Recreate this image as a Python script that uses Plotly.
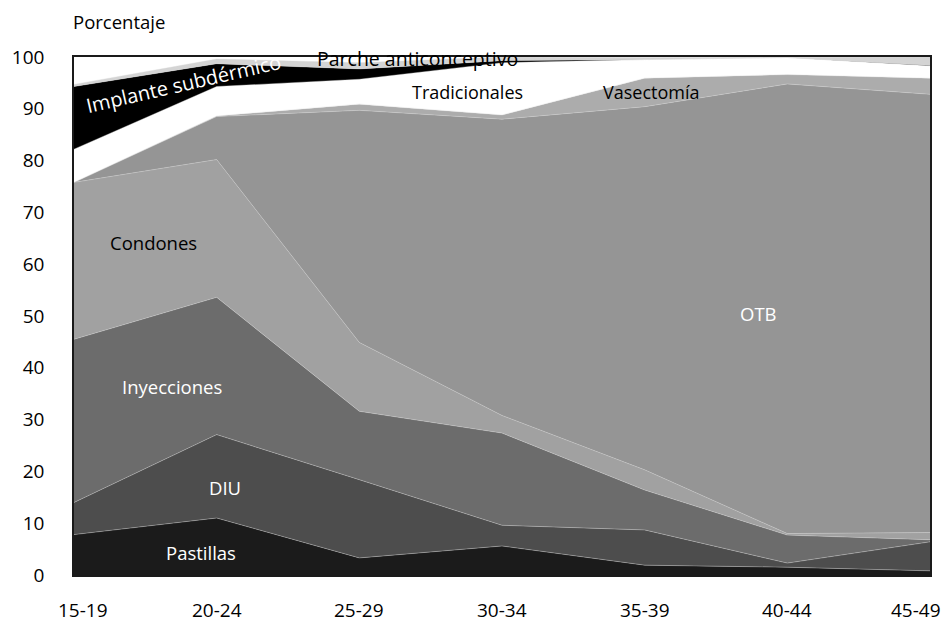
import plotly.graph_objects as go

categories = ["15-19", "20-24", "25-29", "30-34", "35-39", "40-44", "45-49"]

pastillas = [7.8, 11.0, 3.3, 5.6, 1.9, 1.5, 0.8]
diu = [6.2, 16.1, 15.1, 4.0, 6.8, 0.8, 5.6]
inyecciones = [31.5, 26.5, 13.2, 17.8, 7.7, 5.4, 0.4]
condones = [30.3, 26.6, 13.3, 3.4, 3.9, 0.3, 1.4]
otb = [0.0, 8.3, 44.8, 57.2, 70.1, 86.8, 84.6]
vasectomia = [0.0, 0.1, 1.2, 0.8, 5.5, 1.8, 3.1]
tradicionales = [6.4, 5.7, 4.8, 10.1, 3.6, 3.3, 2.4]
implante = [12.1, 4.4, 2.0, 0.4, 0.0, 0.0, 0.1]
parche = [0.4, 0.9, 1.2, 0.7, 0.4, 0.1, 1.6]

y_ticks = [0, 10, 20, 30, 40, 50, 60, 70, 80, 90, 100]

series = [
    ("Pastillas", pastillas, "#1b1b1b"),
    ("DIU", diu, "#4d4d4d"),
    ("Inyecciones", inyecciones, "#6c6c6c"),
    ("Condones", condones, "#a1a1a1"),
    ("OTB", otb, "#959595"),
    ("Vasectomía", vasectomia, "#acacac"),
    ("Tradicionales", tradicionales, "#ffffff"),
    ("Implante subdérmico", implante, "#000000"),
    ("Parche anticonceptivo", parche, "#d4d4d4"),
]

FONT = "Open Sans"

fig = go.Figure()
for name, vals, col in series:
    fig.add_trace(go.Scatter(
        x=categories, y=vals, name=name, mode="lines",
        stackgroup="one", fillcolor=col,
        line=dict(color="rgba(215,215,215,0.6)", width=0.6),
        hoverinfo="skip",
    ))

# series labels (x as category index, y in data units)
labels = [
    ("Implante subdérmico", 0.77, 94.8, "white", -13, 20),
    ("Parche anticonceptivo", 2.41, 99.8, "black", 0, 19.5),
    ("Tradicionales", 2.76, 93.2, "black", 0, 18),
    ("Vasectomía", 4.05, 93.2, "black", 0, 18),
    ("Condones", 0.56, 64.2, "black", 0, 18.5),
    ("OTB", 4.80, 50.5, "white", 0, 18.5),
    ("Inyecciones", 0.69, 36.4, "white", 0, 18.5),
    ("DIU", 1.06, 16.8, "white", 0, 18.5),
    ("Pastillas", 0.89, 4.3, "white", 0, 18.5),
]
for txt, xi, yv, col, ang, sz in labels:
    fig.add_annotation(x=xi, y=yv, xref="x", yref="y", text=txt,
                       showarrow=False, textangle=ang,
                       font=dict(family=FONT, size=sz, color=col),
                       xanchor="center", yanchor="middle")

# x tick labels, kept inside the canvas at the edges
shifts = [9, 0, 0, 0, 0, 0, -14]
for i, c in enumerate(categories):
    fig.add_annotation(x=i, y=0, xref="x", yref="paper", text=c,
                       showarrow=False, yshift=-35, xshift=shifts[i],
                       font=dict(family=FONT, size=19, color="black"),
                       xanchor="center", yanchor="middle")

fig.add_annotation(x=-0.004, y=1.068, xref="paper", yref="paper",
                   text="Porcentaje", showarrow=False,
                   xanchor="left", yanchor="middle",
                   font=dict(family=FONT, size=18.5, color="black"))

fig.update_layout(
    width=944, height=622,
    margin=dict(l=71, r=13, t=57, b=47),
    paper_bgcolor="white", plot_bgcolor="white",
    showlegend=False, hovermode=False,
    font=dict(family=FONT, color="black"),
)
fig.update_xaxes(type="category", range=[0, 6], showgrid=False,
                 showticklabels=False, ticks="",
                 showline=True, mirror=True, linecolor="#1a1a1a", linewidth=1.5,
                 zeroline=False)
fig.update_yaxes(range=[0, 100], tickvals=y_ticks, showgrid=False,
                 ticks="outside", ticklen=0, ticklabelstandoff=24,
                 tickfont=dict(family=FONT, size=19, color="black"),
                 showline=True, mirror=True, linecolor="#1a1a1a", linewidth=1.5,
                 zeroline=False)

fig.write_html("out.html", config={"displayModeBar": False},
               post_script="document.body.style.margin='0';document.body.style.overflow='hidden';")
